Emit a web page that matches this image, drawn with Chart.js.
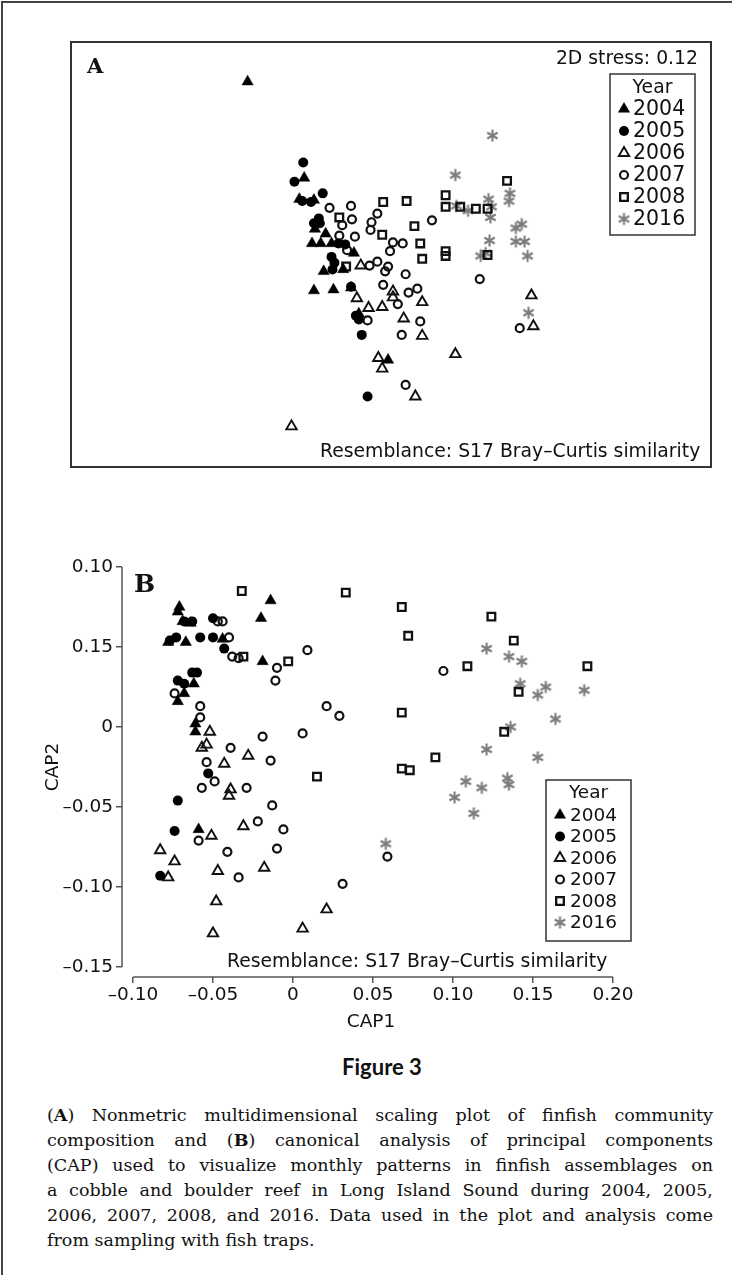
<!DOCTYPE html>
<html>
<head>
<meta charset="utf-8">
<script src="https://cdn.jsdelivr.net/npm/chart.js@4.4.1/dist/chart.umd.min.js"></script>
<style>
html,body{margin:0;padding:0;background:#fff;}
body{width:732px;height:1275px;position:relative;overflow:hidden;font-family:"DejaVu Sans",sans-serif;color:#111;}
#outer{position:absolute;left:1px;top:1px;width:800px;height:1400px;border-left:2px solid #444;border-top:2px solid #444;}
#boxA{position:absolute;left:70px;top:41px;width:642px;height:427px;box-sizing:border-box;border:2px solid #333;}
#chartA{position:absolute;left:71px;top:42px;}
#chartB{position:absolute;left:0px;top:540px;}
.t{position:absolute;white-space:nowrap;line-height:1;color:#111;}
.sans{font-family:"DejaVu Sans",sans-serif;font-size:18.8px;}
.plab{font-family:"DejaVu Serif",serif;font-weight:bold;}
#fig3{position:absolute;left:0;width:764px;text-align:center;top:1056px;font-family:Lato,"Open Sans",sans-serif;font-weight:700;font-size:22px;line-height:1;color:#111;}
#caption{position:absolute;left:47px;top:1103px;width:666px;font-family:"DejaVu Serif",serif;font-size:17.5px;line-height:25px;color:#111;}
#caption .ln{display:flex;justify-content:space-between;white-space:nowrap;}
#caption .ln.last{display:block;}
</style>
</head>
<body>
<div id="outer"></div>
<div id="boxA"></div>
<canvas id="chartA" width="640" height="425"></canvas>
<div class="t plab" style="left:87px;top:55px;font-size:21px;">A</div>
<div class="t sans" style="right:34px;top:49px;">2D stress: 0.12</div>
<div class="t sans" style="left:320px;top:442px;">Resemblance: S17 Bray–Curtis similarity</div>

<canvas id="chartB" width="732" height="500"></canvas>
<div class="t plab" style="left:134px;top:571px;font-size:25px;">B</div>
<div class="t sans" style="left:227px;top:952px;">Resemblance: S17 Bray–Curtis similarity</div>

<div id="fig3">Figure 3</div>
<div id="caption">
<div class="ln">(<b>A</b>) Nonmetric multidimensional scaling plot of finfish community</div>
<div class="ln">composition and (<b>B</b>) canonical analysis of principal components</div>
<div class="ln">(CAP) used to visualize monthly patterns in finfish assemblages on</div>
<div class="ln">a cobble and boulder reef in Long Island Sound during 2004, 2005,</div>
<div class="ln">2006, 2007, 2008, and 2016. Data used in the plot and analysis come</div>
<div class="ln last">from sampling with fish traps.</div>
</div>

<script>
// justify caption lines word by word (text stays real text)
document.querySelectorAll('#caption .ln:not(.last)').forEach(el=>{
  const parts = el.innerHTML.trim().split(/\s+/);
  el.innerHTML = parts.map(p=>'<span>'+p+'</span>').join('');
});

// ---------------- DATA ----------------
const years = ['2004','2005','2006','2007','2008','2016'];

// Panel A: NMDS ordination (unitless axes, not drawn)
const nmds2004 = [[-1.47,1.80],[-0.89,0.80],[-0.94,0.58],[-0.79,0.57],[-0.78,0.27],[-0.67,0.22],[-0.81,0.12],[-0.72,0.12],[-0.61,0.12],[-0.38,0.02],[-0.69,-0.17],[-0.49,-0.15],[-0.79,-0.37],[-0.59,-0.36],[-0.41,-0.34],[-0.33,-0.61],[-0.03,-1.09]];
const nmds2005 = [[-0.90,0.96],[-0.99,0.76],[-0.70,0.64],[-0.91,0.56],[-0.82,0.55],[-0.74,0.38],[-0.79,0.33],[-0.73,0.33],[-0.54,0.12],[-0.47,0.11],[-0.61,-0.02],[-0.58,-0.08],[-0.60,-0.15],[-0.41,-0.33],[-0.36,-0.63],[-0.33,-0.67],[-0.30,-0.83],[-0.24,-1.47]];
const nmds2006 = [[-0.31,-0.11],[0.02,-0.38],[0.02,-0.44],[0.32,-0.49],[-0.35,-0.45],[-0.23,-0.55],[-0.09,-0.54],[0.13,-0.66],[0.32,-0.84],[-0.13,-1.07],[-0.09,-1.18],[0.66,-1.03],[0.25,-1.47],[-1.02,-1.78],[1.44,-0.42],[1.46,-0.74]];
const nmds2007 = [[-0.63,0.49],[-0.41,0.51],[-0.14,0.43],[-0.40,0.37],[-0.50,0.31],[-0.20,0.34],[-0.21,0.26],[-0.53,0.20],[-0.37,0.19],[0.02,0.13],[0.12,0.12],[-0.01,0.04],[-0.45,0.05],[-0.22,-0.11],[-0.14,-0.07],[-0.06,-0.17],[-0.03,-0.12],[0.15,-0.20],[0.42,0.36],[-0.08,-0.31],[0.18,-0.39],[0.27,-0.35],[0.07,-0.51],[-0.24,-0.68],[0.30,-0.69],[0.11,-0.83],[0.15,-1.35],[0.91,-0.25],[1.32,-0.76]];
const nmds2008 = [[-0.53,0.39],[-0.08,0.55],[0.16,0.56],[-0.09,0.21],[0.24,0.30],[0.30,0.12],[0.32,-0.04],[0.56,0.62],[0.56,0.50],[0.71,0.50],[0.87,0.48],[0.99,0.48],[1.19,0.77],[-0.46,-0.12],[0.56,0.04],[0.56,-0.01],[0.99,0.00]];
const nmds2016 = [[1.04,1.24],[0.66,0.83],[0.67,0.51],[0.79,0.46],[1.00,0.58],[1.03,0.50],[1.02,0.39],[1.22,0.64],[1.21,0.56],[1.28,0.28],[1.34,0.32],[1.01,0.15],[1.28,0.14],[1.37,0.14],[0.92,-0.01],[0.97,0.02],[1.40,-0.01],[1.41,-0.60]];

// Panel B: CAP1 / CAP2
const cap2004 = [[-0.071,0.075],[-0.072,0.072],[-0.069,0.066],[-0.064,0.065],[-0.078,0.053],[-0.067,0.053],[-0.044,0.055],[-0.014,0.079],[-0.020,0.068],[-0.019,0.041],[-0.062,0.027],[-0.068,0.021],[-0.072,0.016],[-0.061,-0.003],[-0.061,0.002],[-0.059,-0.064]];
const cap2005 = [[-0.068,0.066],[-0.063,0.066],[-0.077,0.054],[-0.073,0.056],[-0.058,0.056],[-0.050,0.068],[-0.050,0.056],[-0.043,0.049],[-0.063,0.034],[-0.060,0.034],[-0.072,0.029],[-0.068,0.027],[-0.053,-0.029],[-0.072,-0.046],[-0.074,-0.065],[-0.083,-0.093]];
const cap2006 = [[-0.052,-0.003],[-0.054,-0.011],[-0.057,-0.013],[-0.028,-0.018],[-0.043,-0.023],[-0.039,-0.039],[-0.040,-0.043],[-0.031,-0.062],[-0.051,-0.068],[-0.083,-0.077],[-0.074,-0.084],[-0.047,-0.090],[-0.018,-0.088],[-0.078,-0.094],[-0.048,-0.109],[0.021,-0.114],[-0.050,-0.129],[0.006,-0.126]];
const cap2007 = [[-0.047,0.066],[-0.044,0.066],[-0.040,0.056],[-0.038,0.044],[-0.034,0.043],[0.009,0.048],[-0.010,0.037],[-0.011,0.029],[-0.074,0.021],[-0.058,0.013],[-0.058,0.006],[-0.019,-0.006],[0.006,-0.004],[0.021,0.013],[0.029,0.007],[-0.039,-0.013],[-0.014,-0.021],[-0.054,-0.022],[-0.049,-0.034],[-0.057,-0.038],[-0.029,-0.038],[-0.013,-0.049],[-0.022,-0.059],[-0.059,-0.071],[-0.006,-0.064],[-0.041,-0.078],[-0.010,-0.076],[-0.034,-0.094],[0.031,-0.098],[0.059,-0.081],[0.094,0.035]];
const cap2008 = [[-0.032,0.085],[0.033,0.084],[-0.031,0.044],[-0.003,0.041],[0.015,-0.031],[0.068,0.075],[0.072,0.057],[0.068,0.009],[0.068,-0.026],[0.073,-0.027],[0.089,-0.019],[0.109,0.038],[0.124,0.069],[0.138,0.054],[0.141,0.022],[0.132,-0.003],[0.184,0.038]];
const cap2016 = [[0.121,0.049],[0.135,0.044],[0.143,0.041],[0.142,0.027],[0.153,0.020],[0.158,0.025],[0.182,0.023],[0.164,0.005],[0.136,0.000],[0.121,-0.014],[0.153,-0.019],[0.108,-0.034],[0.118,-0.038],[0.134,-0.032],[0.135,-0.036],[0.101,-0.044],[0.113,-0.054],[0.058,-0.073]];

// Tick values and labels for panel B (labels as printed in the figure)
const xTickValues = [-0.10,-0.05,0,0.05,0.10,0.15,0.20];
const xTickLabels = ['–0.10','–0.05','0','0.05','0.10','0.15','0.20'];
const yTickValues = [0.10,0.05,0,-0.05,-0.10,-0.15];
const yTickLabels = ['0.10','0.15','0','–0.05','–0.10','–0.15'];

// ---------------- STYLE ----------------
function makeAsterisk(color, r, lw){
  const s = Math.ceil(2*r + lw + 2);
  const c = document.createElement('canvas');
  c.width = s; c.height = s;
  const g = c.getContext('2d');
  g.strokeStyle = color; g.lineWidth = lw; g.lineCap = 'butt';
  const cx = s/2;
  [90,30,150].forEach(a=>{
    const rad = a*Math.PI/180;
    g.beginPath();
    g.moveTo(cx + r*Math.cos(rad), cx - r*Math.sin(rad));
    g.lineTo(cx - r*Math.cos(rad), cx + r*Math.sin(rad));
    g.stroke();
  });
  return c;
}
const asterisk = makeAsterisk('#7b7b7b', 6, 2.1);
const NONE = 'rgba(0,0,0,0)';
const styles = {
  '2004': {pointStyle:'triangle', pointRadius:6.5, pointBackgroundColor:'#000', pointBorderColor:'#000', pointBorderWidth:0.5},
  '2005': {pointStyle:'circle', pointRadius:5, pointBackgroundColor:'#000', pointBorderColor:'#000', pointBorderWidth:0},
  '2006': {pointStyle:'triangle', pointRadius:6, pointBackgroundColor:NONE, pointBorderColor:'#111', pointBorderWidth:1.9},
  '2007': {pointStyle:'circle', pointRadius:4, pointBackgroundColor:NONE, pointBorderColor:'#111', pointBorderWidth:2.2},
  '2008': {pointStyle:'rect', pointRadius:5.4, pointBackgroundColor:NONE, pointBorderColor:'#111', pointBorderWidth:2.3},
  '2016': {pointStyle:asterisk, pointRadius:6, pointBackgroundColor:'#7b7b7b', pointBorderColor:'#7b7b7b', pointBorderWidth:0}
};

function toDatasets(series){
  return years.map((yr,i)=>Object.assign({
    label: yr,
    data: series[i].map(p=>({x:p[0], y:p[1]})),
    showLine:false
  }, styles[yr]));
}

function drawSymbol(ctx, ds, x, y){
  const st = ds.pointStyle, r = ds.pointRadius;
  if (st instanceof HTMLCanvasElement){ ctx.drawImage(st, x - st.width/2, y - st.height/2); return; }
  ctx.save();
  ctx.fillStyle = ds.pointBackgroundColor;
  ctx.strokeStyle = ds.pointBorderColor;
  ctx.lineWidth = ds.pointBorderWidth;
  ctx.beginPath();
  if (st === 'circle') ctx.arc(x, y, r, 0, Math.PI*2);
  else if (st === 'triangle'){
    let rad = 0;
    for (let k=0;k<3;k++){
      const px = x + Math.sin(rad)*r, py = y - Math.cos(rad)*r;
      if (k===0) ctx.moveTo(px,py); else ctx.lineTo(px,py);
      rad += 2*Math.PI/3;
    }
  } else if (st === 'rect'){
    const s = r*Math.SQRT1_2; ctx.rect(x-s, y-s, 2*s, 2*s);
  }
  ctx.closePath();
  ctx.fill();
  if (ds.pointBorderWidth > 0) ctx.stroke();
  ctx.restore();
}

const yearLegend = {
  id:'yearLegend',
  afterDraw(chart, args, o){
    const ctx = chart.ctx;
    ctx.save();
    ctx.strokeStyle = '#333'; ctx.lineWidth = 1.5;
    ctx.strokeRect(o.left, o.top, o.width, o.height);
    ctx.fillStyle = '#111';
    ctx.textBaseline = 'middle';
    ctx.textAlign = 'center';
    ctx.font = o.titleFont;
    ctx.fillText(o.title, o.left + o.width/2, o.titleY);
    chart.data.datasets.forEach((ds,i)=>{
      const y = o.firstY + i*o.rowH;
      drawSymbol(ctx, ds, o.symbolX, y);
      ctx.fillStyle = '#111';
      ctx.textAlign = 'left';
      ctx.font = o.font;
      ctx.fillText(ds.label, o.textX, y + 1);
    });
    ctx.restore();
  }
};

const rAxes = {
  id:'rAxes',
  afterDraw(chart){
    const {ctx, chartArea:a, scales:{x,y}} = chart;
    ctx.save();
    ctx.strokeStyle = '#555'; ctx.lineWidth = 1.5;
    ctx.beginPath();
    ctx.moveTo(a.left, y.getPixelForValue(Math.max(...yTickValues)));
    ctx.lineTo(a.left, y.getPixelForValue(Math.min(...yTickValues)));
    ctx.moveTo(x.getPixelForValue(Math.min(...xTickValues)), a.bottom);
    ctx.lineTo(x.getPixelForValue(Math.max(...xTickValues)), a.bottom);
    ctx.stroke();
    ctx.restore();
  }
};

function labelFor(v, vals, labs){
  for (let i=0;i<vals.length;i++) if (Math.abs(vals[i]-v) < 1e-9) return labs[i];
  return '';
}

// ---------------- PANEL A ----------------
new Chart(document.getElementById('chartA'), {
  type:'scatter',
  data:{datasets: toDatasets([nmds2004,nmds2005,nmds2006,nmds2007,nmds2008,nmds2016])},
  options:{
    responsive:false, animation:false, devicePixelRatio:1, events:[],
    layout:{padding:0},
    scales:{
      x:{type:'linear', display:false, min:-3.2, max:3.2},
      y:{type:'linear', display:false, min:-2.12, max:2.13}
    },
    plugins:{
      legend:{display:false}, tooltip:{enabled:false},
      yearLegend:{left:539, top:32, width:85, height:161, title:'Year', titleY:46,
        firstY:67, rowH:22, symbolX:553, textX:562,
        titleFont:'18.8px "DejaVu Sans"', font:'20.5px "DejaVu Sans"'}
    }
  },
  plugins:[yearLegend]
});

// ---------------- PANEL B ----------------
const tickFont = {family:'DejaVu Sans', size:18.5};
new Chart(document.getElementById('chartB'), {
  type:'scatter',
  data:{datasets: toDatasets([cap2004,cap2005,cap2006,cap2007,cap2008,cap2016])},
  options:{
    responsive:false, animation:false, devicePixelRatio:1, events:[],
    layout:{padding:{top:17, right:112, left:0, bottom:0}},
    scales:{
      x:{
        type:'linear', min:-0.106875, max:0.204375,
        afterFit(s){ s.height = 63; },
        afterBuildTicks(s){ s.ticks = xTickValues.map(v=>({value:v})); },
        ticks:{callback:(v)=>labelFor(v,xTickValues,xTickLabels), font:tickFont, color:'#111', padding:1, maxRotation:0, autoSkip:false},
        grid:{drawOnChartArea:false, drawTicks:true, tickLength:6, color:'#555', lineWidth:1.5},
        border:{display:false},
        title:{display:true, text:'CAP1', font:tickFont, color:'#111', padding:{top:0, bottom:7}}
      },
      y:{
        type:'linear', min:-0.15625, max:0.10625,
        afterFit(s){ s.width = 122; },
        afterBuildTicks(s){ s.ticks = yTickValues.map(v=>({value:v})); },
        ticks:{callback:(v)=>labelFor(v,yTickValues,yTickLabels), font:tickFont, color:'#111', padding:3, autoSkip:false},
        grid:{drawOnChartArea:false, drawTicks:true, tickLength:6, color:'#555', lineWidth:1.5},
        border:{display:false},
        title:{display:true, text:'CAP2', font:tickFont, color:'#111', padding:{top:42, bottom:0}}
      }
    },
    plugins:{
      legend:{display:false}, tooltip:{enabled:false},
      yearLegend:{left:546, top:240, width:85, height:161, title:'Year', titleY:253,
        firstY:275, rowH:21.5, symbolX:560, textX:570,
        titleFont:'18.5px "DejaVu Sans"', font:'18.5px "DejaVu Sans"'}
    }
  },
  plugins:[rAxes, yearLegend]
});
</script>
</body>
</html>
